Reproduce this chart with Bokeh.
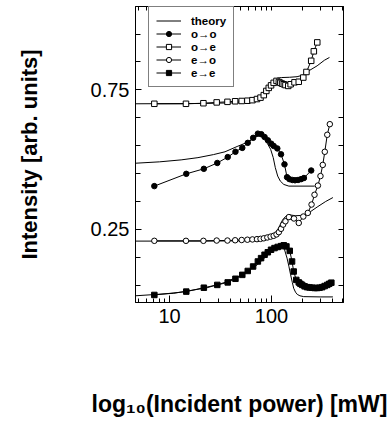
from bokeh.plotting import figure
from bokeh.models import (Range1d, FixedTicker, LogAxis, LinearAxis, Legend, LegendItem,
                          BasicTickFormatter)
from bokeh.embed import file_html
from bokeh.resources import INLINE

# ---------------- data ----------------
# o->o : filled circles
OO_X = [7.1, 14.6, 21.7, 29.4, 37.2, 44.3, 51.7, 58.5, 66.1, 73.5, 79.4, 85.5, 92.2, 99.4,
        105, 114, 124, 134, 142, 150, 160, 170, 182, 195, 208, 245]
OO_Y = [0.405, 0.449, 0.467, 0.488, 0.509, 0.528, 0.542, 0.560, 0.578, 0.593, 0.591, 0.581,
        0.569, 0.557, 0.549, 0.540, 0.519, 0.483, 0.437, 0.430, 0.427, 0.426, 0.427, 0.430,
        0.434, 0.461]
OO_TX = [4.6, 8, 13, 19, 27, 35, 46, 58, 68, 77, 84, 91, 98, 104, 109, 115, 122, 132, 148, 265]
OO_TY = [0.487, 0.492, 0.499, 0.507, 0.518, 0.528, 0.547, 0.562, 0.578, 0.590, 0.580, 0.558,
         0.537, 0.507, 0.471, 0.441, 0.423, 0.411, 0.405, 0.405]

# o->e : open squares
OE_X = [7.1, 14.5, 21.5, 29, 37, 44, 51, 58, 65, 72, 78, 84, 89, 94, 99, 105, 112, 118, 122,
        127, 132, 137, 146, 154, 168, 185, 205, 220, 245, 260, 281]
OE_Y = [0.700, 0.700, 0.702, 0.705, 0.707, 0.709, 0.710, 0.711, 0.713, 0.717, 0.722, 0.731,
        0.746, 0.757, 0.766, 0.775, 0.782, 0.778, 0.775, 0.772, 0.770, 0.767, 0.764, 0.770,
        0.777, 0.779, 0.794, 0.814, 0.854, 0.888, 0.920]
OE_TX = [4.6, 20, 50, 70, 80, 86, 92, 99, 107, 114, 125, 150, 178, 200, 227, 280, 330, 370]
OE_TY = [0.700, 0.701, 0.704, 0.710, 0.720, 0.735, 0.756, 0.776, 0.786, 0.792, 0.794, 0.795,
         0.797, 0.802, 0.816, 0.836, 0.856, 0.866]

# e->o : open circles
EO_X = [7.1, 14.5, 21.5, 29, 37, 44, 51, 58, 65, 72, 78, 84, 91, 98, 105, 112, 118, 124, 130,
        137, 148, 166, 185, 205, 227, 247, 264, 285, 302, 318, 333, 352, 373]
EO_Y = [0.209, 0.209, 0.209, 0.210, 0.210, 0.211, 0.212, 0.213, 0.214, 0.215, 0.216, 0.218,
        0.221, 0.224, 0.227, 0.232, 0.240, 0.252, 0.267, 0.279, 0.294, 0.289, 0.273, 0.296,
        0.309, 0.339, 0.374, 0.407, 0.441, 0.481, 0.528, 0.589, 0.627]
EO_TX = [4.6, 20, 50, 80, 95, 105, 112, 120, 128, 137, 150, 172, 200, 240, 280, 340, 400]
EO_TY = [0.208, 0.208, 0.209, 0.212, 0.218, 0.226, 0.240, 0.262, 0.283, 0.296, 0.302, 0.299,
         0.300, 0.313, 0.330, 0.350, 0.364]

# e->e : filled squares
EE_X = [7.1, 14.6, 21.7, 29.4, 37.2, 44.3, 51.7, 58.5, 66, 73.5, 79, 85.5, 92, 99, 107, 115,
        124, 132, 140, 151, 159, 165, 175, 185, 192, 200, 211, 223, 236, 250, 265, 280, 296,
        314, 332, 352, 368, 386]
EE_Y = [0.015, 0.027, 0.041, 0.051, 0.060, 0.073, 0.087, 0.101, 0.117, 0.135, 0.147, 0.159,
        0.168, 0.177, 0.183, 0.187, 0.190, 0.193, 0.189, 0.173, 0.135, 0.099, 0.069, 0.060,
        0.055, 0.051, 0.046, 0.043, 0.042, 0.041, 0.040, 0.040, 0.041, 0.043, 0.047, 0.051,
        0.055, 0.059]
EE_TX = [4.6, 11, 23.4, 35, 49.6, 60, 72.4, 88, 105, 118, 127, 134, 142, 148, 154, 160, 165,
         172, 179, 190, 207, 300, 400]
EE_TY = [0.012, 0.021, 0.041, 0.060, 0.085, 0.103, 0.123, 0.152, 0.177, 0.187, 0.190, 0.178,
         0.147, 0.118, 0.087, 0.060, 0.039, 0.025, 0.017, 0.012, 0.009, 0.008, 0.008]

X_MAJOR = [10, 100]
X_MINOR = [5, 6, 7, 8, 9, 20, 30, 40, 50, 60, 70, 80, 90, 200, 300, 400, 500]
Y_MAJOR = [0.25, 0.75]
Y_MINOR = [0.05, 0.15, 0.35, 0.45, 0.55, 0.65, 0.85, 0.95]

LABELS = ["theory", "o\u2192o", "o\u2192e", "e\u2192o", "e\u2192e"]
X_TITLE = "log\u2081\u2080(Incident power) [mW]"
Y_TITLE = "Intensity [arb. units]"

# ---------------- figure ----------------
p = figure(x_axis_type="log", x_range=Range1d(4.64, 508), y_range=Range1d(-0.012, 1.0486),
           frame_width=208, frame_height=296, min_border_left=135, min_border_right=48,
           min_border_top=6, min_border_bottom=120, output_backend="svg",
           toolbar_location=None, background_fill_color="white", border_fill_color="white")
p.grid.visible = False
p.outline_line_color = "black"

FONT = "Liberation Sans"

xa = p.xaxis[0]
xa.ticker = FixedTicker(ticks=X_MAJOR, minor_ticks=X_MINOR)
xa.formatter = BasicTickFormatter()
xa.major_tick_in = 7
xa.major_tick_out = 0
xa.minor_tick_in = 4
xa.minor_tick_out = 0
xa.major_label_standoff = 6
xa.major_label_text_font = FONT
xa.major_label_text_font_size = "20px"
xa.major_label_text_color = "black"
xa.axis_label = X_TITLE
xa.axis_label_text_font = FONT
xa.axis_label_text_font_style = "bold"
xa.axis_label_text_font_size = "23px"
xa.axis_label_text_color = "black"
xa.axis_label_standoff = 65
xa.axis_line_color = "black"
xa.major_tick_line_color = "black"
xa.minor_tick_line_color = "black"

ya = p.yaxis[0]
ya.ticker = FixedTicker(ticks=Y_MAJOR, minor_ticks=Y_MINOR)
ya.formatter = BasicTickFormatter()
ya.major_tick_in = 6
ya.major_tick_out = 0
ya.minor_tick_in = 5
ya.minor_tick_out = 0
ya.major_label_standoff = 6
ya.major_label_text_font = FONT
ya.major_label_text_font_size = "20px"
ya.major_label_text_color = "black"
ya.axis_label = Y_TITLE
ya.axis_label_text_font = FONT
ya.axis_label_text_font_style = "bold"
ya.axis_label_text_font_size = "22px"
ya.axis_label_text_color = "black"
ya.axis_label_standoff = 46
ya.axis_line_color = "black"

top = LogAxis(ticker=FixedTicker(ticks=[], minor_ticks=X_MINOR + X_MAJOR),
              minor_tick_in=4, minor_tick_out=0, major_tick_in=0, major_tick_out=0,
              major_label_standoff=0, axis_line_color="black")
p.add_layout(top, "above")
right = LinearAxis(ticker=FixedTicker(ticks=[], minor_ticks=Y_MINOR + Y_MAJOR),
                   minor_tick_in=5, minor_tick_out=0, major_tick_in=0, major_tick_out=0,
                   major_label_standoff=0, axis_line_color="black")
p.add_layout(right, "right")

# theory curves
t_oo = p.line(OO_TX, OO_TY, line_color="black", line_width=1)
p.line(OE_TX, OE_TY, line_color="black", line_width=1)
p.line(EO_TX, EO_TY, line_color="black", line_width=1)
p.line(EE_TX, EE_TY, line_color="black", line_width=1)

# data
MS = 5.5
l_oo = p.line(OO_X, OO_Y, line_color="black", line_width=1)
m_oo = p.scatter(OO_X, OO_Y, marker="circle", size=MS, fill_color="black", line_color="black")
l_oe = p.line(OE_X, OE_Y, line_color="black", line_width=1)
m_oe = p.scatter(OE_X, OE_Y, marker="square", size=MS, fill_color="white", line_color="black")
l_eo = p.line(EO_X, EO_Y, line_color="black", line_width=1)
m_eo = p.scatter(EO_X, EO_Y, marker="circle", size=MS, fill_color="white", line_color="black")
l_ee = p.line(EE_X, EE_Y, line_color="black", line_width=1)
m_ee = p.scatter(EE_X, EE_Y, marker="square", size=MS, fill_color="black", line_color="black")

legend = Legend(items=[
    LegendItem(label=LABELS[0], renderers=[t_oo]),
    LegendItem(label=LABELS[1], renderers=[l_oo, m_oo]),
    LegendItem(label=LABELS[2], renderers=[l_oe, m_oe]),
    LegendItem(label=LABELS[3], renderers=[l_eo, m_eo]),
    LegendItem(label=LABELS[4], renderers=[l_ee, m_ee]),
], location=(13, 215), padding=7, margin=0, spacing=0, glyph_width=25, glyph_height=13,
    label_height=13, label_standoff=10, label_text_font=FONT, label_text_font_style="bold",
    label_text_font_size="11.5px", label_text_color="black", border_line_color="black",
    border_line_width=1, background_fill_color="white", background_fill_alpha=1)
p.add_layout(legend)

open("out.html", "w").write(file_html(p, INLINE))
